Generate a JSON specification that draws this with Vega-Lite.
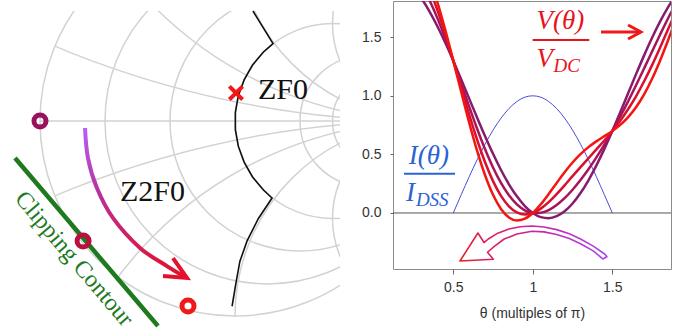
{
  "$schema": "https://vega.github.io/schema/vega-lite/v6.json",
  "padding": 0,
  "spacing": 53,
  "bounds": "flush",
  "background": "white",
  "config": {"view": {"stroke": null}, "font": "Liberation Sans"},
  "datasets": {
    "resistance": [
      {"gx": 0, "gy": 0, "rad": 1},
      {"gx": 0.1667, "gy": 0, "rad": 0.8333},
      {"gx": 0.3333, "gy": 0, "rad": 0.6667},
      {"gx": 0.5, "gy": 0, "rad": 0.5},
      {"gx": 0.6667, "gy": 0, "rad": 0.3333},
      {"gx": 0.75, "gy": 0, "rad": 0.25},
      {"gx": 0.8333, "gy": 0, "rad": 0.1667},
      {"gx": 0.9091, "gy": 0, "rad": 0.0909}
    ],
    "reactance": [
      {"gx": 1, "gy": 5, "rad": 5}, {"gx": 1, "gy": -5, "rad": 5},
      {"gx": 1, "gy": 2, "rad": 2}, {"gx": 1, "gy": -2, "rad": 2},
      {"gx": 1, "gy": 1, "rad": 1}, {"gx": 1, "gy": -1, "rad": 1},
      {"gx": 1, "gy": 0.5, "rad": 0.5}, {"gx": 1, "gy": -0.5, "rad": 0.5},
      {"gx": 1, "gy": 0.3333, "rad": 0.3333}, {"gx": 1, "gy": -0.3333, "rad": 0.3333},
      {"gx": 1, "gy": 0.2, "rad": 0.2}, {"gx": 1, "gy": -0.2, "rad": 0.2},
      {"gx": 1, "gy": 0.1, "rad": 0.1}, {"gx": 1, "gy": -0.1, "rad": 0.1}
    ],
    "zf0": [
      {"o": 0, "gx": 0.092, "gy": 0.564},
      {"o": 1, "gx": 0.195, "gy": 0.397},
      {"o": 2, "gx": 0.179, "gy": 0.383},
      {"o": 3, "gx": 0.146, "gy": 0.354},
      {"o": 4, "gx": 0.090, "gy": 0.287},
      {"o": 5, "gx": 0.047, "gy": 0.211},
      {"o": 6, "gx": 0.017, "gy": 0.129},
      {"o": 7, "gx": 0.002, "gy": 0.044},
      {"o": 8, "gx": 0.002, "gy": -0.044},
      {"o": 9, "gx": 0.017, "gy": -0.129},
      {"o": 10, "gx": 0.047, "gy": -0.211},
      {"o": 11, "gx": 0.090, "gy": -0.287},
      {"o": 12, "gx": 0.146, "gy": -0.354},
      {"o": 13, "gx": 0.19, "gy": -0.395},
      {"o": 14, "gx": 0.12, "gy": -0.50},
      {"o": 15, "gx": 0.062, "gy": -0.615},
      {"o": 16, "gx": 0.025, "gy": -0.72},
      {"o": 17, "gx": 0.005, "gy": -0.83},
      {"o": 18, "gx": -0.015, "gy": -0.95}
    ],
    "z2f0Path": [
      {"o": 0, "gx": -0.769, "gy": -0.036},
      {"o": 1, "gx": -0.754, "gy": -0.190},
      {"o": 2, "gx": -0.708, "gy": -0.344},
      {"o": 3, "gx": -0.626, "gy": -0.497},
      {"o": 4, "gx": -0.487, "gy": -0.651},
      {"o": 5, "gx": -0.349, "gy": -0.744},
      {"o": 6, "gx": -0.256, "gy": -0.800}
    ],
    "z2f0Head": [
      {"o": 0, "gx": -0.318, "gy": -0.703},
      {"o": 1, "gx": -0.246, "gy": -0.805},
      {"o": 2, "gx": -0.369, "gy": -0.795}
    ],
    "states": [
      {"gx": -1.0, "gy": 0, "pt": "start"},
      {"gx": -0.779, "gy": -0.615, "pt": "mid"},
      {"gx": -0.241, "gy": -0.949, "pt": "end"}
    ],
    "voltage": [
      {"t": 0.25, "v1": 1.919, "v2": 2.036, "v3": 2.152, "v4": 2.269},
      {"t": 0.30, "v1": 1.831, "v2": 1.942, "v3": 2.052, "v4": 2.163},
      {"t": 0.35, "v1": 1.721, "v2": 1.816, "v3": 1.910, "v4": 2.005},
      {"t": 0.40, "v1": 1.594, "v2": 1.663, "v3": 1.731, "v4": 1.800},
      {"t": 0.45, "v1": 1.453, "v2": 1.489, "v3": 1.525, "v4": 1.561},
      {"t": 0.50, "v1": 1.300, "v2": 1.300, "v3": 1.300, "v4": 1.300},
      {"t": 0.55, "v1": 1.140, "v2": 1.104, "v3": 1.068, "v4": 1.032},
      {"t": 0.60, "v1": 0.976, "v2": 0.908, "v3": 0.839, "v4": 0.771},
      {"t": 0.65, "v1": 0.813, "v2": 0.719, "v3": 0.625, "v4": 0.530},
      {"t": 0.70, "v1": 0.655, "v2": 0.544, "v3": 0.433, "v4": 0.322},
      {"t": 0.75, "v1": 0.505, "v2": 0.388, "v3": 0.272, "v4": 0.155},
      {"t": 0.80, "v1": 0.367, "v2": 0.256, "v3": 0.146, "v4": 0.034},
      {"t": 0.85, "v1": 0.245, "v2": 0.151, "v3": 0.057, "v4": -0.038},
      {"t": 0.90, "v1": 0.142, "v2": 0.073, "v3": 0.005, "v4": -0.064},
      {"t": 0.95, "v1": 0.059, "v2": 0.023, "v3": -0.013, "v4": -0.049},
      {"t": 1.00, "v1": 0.000, "v2": 0.000, "v3": 0.000, "v4": 0.000},
      {"t": 1.05, "v1": -0.035, "v2": 0.002, "v3": 0.037, "v4": 0.074},
      {"t": 1.10, "v1": -0.044, "v2": 0.025, "v3": 0.093, "v4": 0.162},
      {"t": 1.15, "v1": -0.027, "v2": 0.068, "v3": 0.161, "v4": 0.256},
      {"t": 1.20, "v1": 0.015, "v2": 0.126, "v3": 0.236, "v4": 0.348},
      {"t": 1.25, "v1": 0.081, "v2": 0.198, "v3": 0.314, "v4": 0.431},
      {"t": 1.30, "v1": 0.170, "v2": 0.281, "v3": 0.391, "v4": 0.502},
      {"t": 1.35, "v1": 0.279, "v2": 0.373, "v3": 0.467, "v4": 0.562},
      {"t": 1.40, "v1": 0.406, "v2": 0.475, "v3": 0.543, "v4": 0.611},
      {"t": 1.45, "v1": 0.547, "v2": 0.584, "v3": 0.619, "v4": 0.656},
      {"t": 1.50, "v1": 0.700, "v2": 0.700, "v3": 0.700, "v4": 0.700},
      {"t": 1.55, "v1": 0.860, "v2": 0.824, "v3": 0.788, "v4": 0.752},
      {"t": 1.60, "v1": 1.024, "v2": 0.955, "v3": 0.887, "v4": 0.818},
      {"t": 1.65, "v1": 1.187, "v2": 1.092, "v3": 0.998, "v4": 0.904},
      {"t": 1.70, "v1": 1.345, "v2": 1.234, "v3": 1.124, "v4": 1.012},
      {"t": 1.75, "v1": 1.495, "v2": 1.378, "v3": 1.262, "v4": 1.145},
      {"t": 1.80, "v1": 1.633, "v2": 1.521, "v3": 1.411, "v4": 1.300},
      {"t": 1.85, "v1": 1.755, "v2": 1.660, "v3": 1.566, "v4": 1.472},
      {"t": 1.90, "v1": 1.858, "v2": 1.790, "v3": 1.721, "v4": 1.653}
    ],
    "current": [
      {"t": 0.50, "v": 0.000}, {"t": 0.55, "v": 0.156}, {"t": 0.60, "v": 0.309},
      {"t": 0.65, "v": 0.454}, {"t": 0.70, "v": 0.588}, {"t": 0.75, "v": 0.707},
      {"t": 0.80, "v": 0.809}, {"t": 0.85, "v": 0.891}, {"t": 0.90, "v": 0.951},
      {"t": 0.95, "v": 0.988}, {"t": 1.00, "v": 1.000}, {"t": 1.05, "v": 0.988},
      {"t": 1.10, "v": 0.951}, {"t": 1.15, "v": 0.891}, {"t": 1.20, "v": 0.809},
      {"t": 1.25, "v": 0.707}, {"t": 1.30, "v": 0.588}, {"t": 1.35, "v": 0.454},
      {"t": 1.40, "v": 0.309}, {"t": 1.45, "v": 0.156}, {"t": 1.50, "v": 0.000}
    ],
    "sweepArrow": [
      {"o": 0, "t": 1.454, "v": -0.352}, {"o": 1, "t": 1.38, "v": -0.283},
      {"o": 2, "t": 1.30, "v": -0.222}, {"o": 3, "t": 1.23, "v": -0.178},
      {"o": 4, "t": 1.15, "v": -0.142}, {"o": 5, "t": 1.07, "v": -0.119},
      {"o": 6, "t": 0.995, "v": -0.111}, {"o": 7, "t": 0.92, "v": -0.118},
      {"o": 8, "t": 0.85, "v": -0.137}, {"o": 9, "t": 0.78, "v": -0.172},
      {"o": 10, "t": 0.72, "v": -0.222}, {"o": 11, "t": 0.693, "v": -0.252},
      {"o": 12, "t": 0.655, "v": -0.171}, {"o": 13, "t": 0.542, "v": -0.410},
      {"o": 14, "t": 0.752, "v": -0.395}, {"o": 15, "t": 0.715, "v": -0.335},
      {"o": 16, "t": 0.76, "v": -0.282}, {"o": 17, "t": 0.82, "v": -0.222},
      {"o": 18, "t": 0.90, "v": -0.180}, {"o": 19, "t": 0.995, "v": -0.156},
      {"o": 20, "t": 1.07, "v": -0.161}, {"o": 21, "t": 1.15, "v": -0.183},
      {"o": 22, "t": 1.23, "v": -0.218}, {"o": 23, "t": 1.30, "v": -0.262},
      {"o": 24, "t": 1.38, "v": -0.323}, {"o": 25, "t": 1.440, "v": -0.392},
      {"o": 26, "t": 1.466, "v": -0.374}, {"o": 27, "t": 1.454, "v": -0.352}
    ]
  },
  "hconcat": [
    {
      "width": 340,
      "height": 333,
      "layer": [
        {
          "data": {"name": "reactance"},
          "mark": {"type": "point", "filled": false, "color": "#d2d2d2", "strokeWidth": 1.5, "opacity": 1, "clip": true},
          "encoding": {
            "x": {"field": "gx", "type": "quantitative", "scale": {"domain": [-1.2051, 0.5385], "nice": false, "zero": false}, "axis": null},
            "y": {"field": "gy", "type": "quantitative", "scale": {"domain": [-1.0923, 0.6154], "nice": false, "zero": false}, "axis": null},
            "size": {"field": "rad", "type": "quantitative", "scale": {"type": "pow", "exponent": 2, "domain": [0, 1], "range": [0, 152100], "nice": false}, "legend": null}
          }
        },
        {
          "data": {"values": [{"gx": 0, "gy": 0, "rad": 1.7699}]},
          "mark": {"type": "point", "filled": false, "color": "white", "strokeWidth": 300, "opacity": 1, "clip": true},
          "encoding": {
            "x": {"field": "gx", "type": "quantitative", "scale": {"domain": [-1.2051, 0.5385], "nice": false, "zero": false}, "axis": null},
            "y": {"field": "gy", "type": "quantitative", "scale": {"domain": [-1.0923, 0.6154], "nice": false, "zero": false}, "axis": null},
            "size": {"field": "rad", "type": "quantitative", "scale": {"type": "pow", "exponent": 2, "domain": [0, 1], "range": [0, 152100], "nice": false}, "legend": null}
          }
        },
        {
          "data": {"name": "resistance"},
          "mark": {"type": "point", "filled": false, "color": "#d2d2d2", "strokeWidth": 1.5, "opacity": 1, "clip": true},
          "encoding": {
            "x": {"field": "gx", "type": "quantitative", "scale": {"domain": [-1.2051, 0.5385], "nice": false, "zero": false}, "axis": null},
            "y": {"field": "gy", "type": "quantitative", "scale": {"domain": [-1.0923, 0.6154], "nice": false, "zero": false}, "axis": null},
            "size": {"field": "rad", "type": "quantitative", "scale": {"type": "pow", "exponent": 2, "domain": [0, 1], "range": [0, 152100], "nice": false}, "legend": null}
          }
        },
        {
          "data": {"values": [{"gx": -1, "gy": 0}, {"gx": 1, "gy": 0}]},
          "mark": {"type": "line", "color": "#d2d2d2", "strokeWidth": 1.5, "clip": true},
          "encoding": {
            "x": {"field": "gx", "type": "quantitative", "scale": {"domain": [-1.2051, 0.5385], "nice": false, "zero": false}, "axis": null},
            "y": {"field": "gy", "type": "quantitative", "scale": {"domain": [-1.0923, 0.6154], "nice": false, "zero": false}, "axis": null}
          }
        },
        {
          "data": {"values": [{"gx": -1.3, "gx2": 0.6, "gy": 0.5641, "gy2": 0.7}]},
          "mark": {"type": "rect", "color": "white", "clip": true},
          "encoding": {
            "x": {"field": "gx", "type": "quantitative", "scale": {"domain": [-1.2051, 0.5385], "nice": false, "zero": false}, "axis": null},
            "x2": {"field": "gx2"},
            "y": {"field": "gy", "type": "quantitative", "scale": {"domain": [-1.0923, 0.6154], "nice": false, "zero": false}, "axis": null},
            "y2": {"field": "gy2"}
          }
        },
        {
          "data": {"values": [{"gx": -1.128, "gy": -0.190}, {"gx": -0.395, "gy": -1.051}]},
          "mark": {"type": "line", "color": "#1e7a1e", "strokeWidth": 4.5, "clip": true},
          "encoding": {
            "x": {"field": "gx", "type": "quantitative", "scale": {"domain": [-1.2051, 0.5385], "nice": false, "zero": false}, "axis": null},
            "y": {"field": "gy", "type": "quantitative", "scale": {"domain": [-1.0923, 0.6154], "nice": false, "zero": false}, "axis": null}
          }
        },
        {
          "data": {"values": [{"gx": -0.826, "gy": -0.708, "label": "Clipping Contour"}]},
          "mark": {"type": "text", "font": "Liberation Serif", "fontSize": 24, "angle": 49.6, "color": "#1e7a1e", "align": "center", "baseline": "middle"},
          "encoding": {
            "x": {"field": "gx", "type": "quantitative", "scale": {"domain": [-1.2051, 0.5385], "nice": false, "zero": false}, "axis": null},
            "y": {"field": "gy", "type": "quantitative", "scale": {"domain": [-1.0923, 0.6154], "nice": false, "zero": false}, "axis": null},
            "text": {"field": "label"}
          }
        },
        {
          "data": {"name": "zf0"},
          "mark": {"type": "line", "color": "#111111", "strokeWidth": 1.6, "clip": true},
          "encoding": {
            "x": {"field": "gx", "type": "quantitative", "scale": {"domain": [-1.2051, 0.5385], "nice": false, "zero": false}, "axis": null},
            "y": {"field": "gy", "type": "quantitative", "scale": {"domain": [-1.0923, 0.6154], "nice": false, "zero": false}, "axis": null},
            "order": {"field": "o"}
          }
        },
        {
          "data": {"name": "z2f0Path"},
          "mark": {
            "type": "line", "strokeWidth": 4, "interpolate": "cardinal", "clip": true,
            "stroke": {"gradient": "linear", "x1": 0, "y1": 0, "x2": 0, "y2": 1,
              "stops": [{"offset": 0, "color": "#b660f5"}, {"offset": 0.45, "color": "#b8309a"}, {"offset": 1, "color": "#e5102c"}]}
          },
          "encoding": {
            "x": {"field": "gx", "type": "quantitative", "scale": {"domain": [-1.2051, 0.5385], "nice": false, "zero": false}, "axis": null},
            "y": {"field": "gy", "type": "quantitative", "scale": {"domain": [-1.0923, 0.6154], "nice": false, "zero": false}, "axis": null},
            "order": {"field": "o"}
          }
        },
        {
          "data": {"name": "z2f0Head"},
          "mark": {"type": "line", "color": "#e5102c", "strokeWidth": 4, "clip": true},
          "encoding": {
            "x": {"field": "gx", "type": "quantitative", "scale": {"domain": [-1.2051, 0.5385], "nice": false, "zero": false}, "axis": null},
            "y": {"field": "gy", "type": "quantitative", "scale": {"domain": [-1.0923, 0.6154], "nice": false, "zero": false}, "axis": null},
            "order": {"field": "o"}
          }
        },
        {
          "data": {"name": "states"},
          "mark": {"type": "point", "filled": false, "size": 144, "strokeWidth": 5, "opacity": 1, "clip": true},
          "encoding": {
            "x": {"field": "gx", "type": "quantitative", "scale": {"domain": [-1.2051, 0.5385], "nice": false, "zero": false}, "axis": null},
            "y": {"field": "gy", "type": "quantitative", "scale": {"domain": [-1.0923, 0.6154], "nice": false, "zero": false}, "axis": null},
            "color": {"field": "pt", "type": "nominal", "scale": {"domain": ["start", "mid", "end"], "range": ["#9a0f5e", "#b8103f", "#f01818"]}, "legend": null}
          }
        },
        {
          "data": {"values": [{"gx": 0.005, "gy": 0.144}]},
          "mark": {"type": "point", "filled": true, "color": "#f01818", "opacity": 1, "size": 256,
            "shape": "M -1 -0.65 L -0.65 -1 L 0 -0.35 L 0.65 -1 L 1 -0.65 L 0.35 0 L 1 0.65 L 0.65 1 L 0 0.35 L -0.65 1 L -1 0.65 L -0.35 0 Z"},
          "encoding": {
            "x": {"field": "gx", "type": "quantitative", "scale": {"domain": [-1.2051, 0.5385], "nice": false, "zero": false}, "axis": null},
            "y": {"field": "gy", "type": "quantitative", "scale": {"domain": [-1.0923, 0.6154], "nice": false, "zero": false}, "axis": null}
          }
        },
        {
          "data": {"values": [{"gx": 0.118, "gy": 0.113, "label": "ZF0"}, {"gx": -0.590, "gy": -0.410, "label": "Z2F0"}]},
          "mark": {"type": "text", "font": "Liberation Serif", "fontSize": 30, "color": "#111111", "align": "left", "baseline": "alphabetic"},
          "encoding": {
            "x": {"field": "gx", "type": "quantitative", "scale": {"domain": [-1.2051, 0.5385], "nice": false, "zero": false}, "axis": null},
            "y": {"field": "gy", "type": "quantitative", "scale": {"domain": [-1.0923, 0.6154], "nice": false, "zero": false}, "axis": null},
            "text": {"field": "label"}
          }
        }
      ]
    },
    {
      "width": 278,
      "height": 268,
      "view": {"stroke": "#8c8c8c", "strokeWidth": 1},
      "resolve": {"scale": {"color": "independent"}},
      "encoding": {
        "x": {
          "field": "t", "type": "quantitative",
          "scale": {"domain": [0.121, 1.869], "nice": false, "zero": false},
          "axis": {"values": [0.5, 1, 1.5], "format": "~g", "title": "θ (multiples of π)", "grid": false, "domain": false,
            "tickSize": 5, "tickColor": "#666666", "labelFontSize": 14, "labelColor": "#333333", "labelPadding": 6,
            "titleFontSize": 14, "titleFontWeight": "normal", "titleColor": "#333333", "titlePadding": 12}
        },
        "y": {
          "field": "v", "type": "quantitative",
          "scale": {"domain": [-0.478, 1.809], "nice": false, "zero": false},
          "axis": {"values": [0, 0.5, 1, 1.5], "format": ".1f", "title": null, "grid": false, "domain": false,
            "tickSize": 3, "tickColor": "#666666", "labelFontSize": 14, "labelColor": "#333333", "labelPadding": 9}
        }
      },
      "layer": [
        {
          "data": {"values": [{"t": 0.121, "t2": 1.869, "v": 0}]},
          "mark": {"type": "rule", "color": "#555555", "strokeWidth": 1},
          "encoding": {"x2": {"field": "t2"}}
        },
        {
          "data": {"name": "current"},
          "mark": {"type": "line", "color": "#4b4bdc", "strokeWidth": 1, "interpolate": "monotone", "clip": true},
          "encoding": {}
        },
        {
          "data": {"name": "voltage"},
          "transform": [{"fold": ["v1", "v2", "v3", "v4"], "as": ["curve", "v"]}],
          "mark": {"type": "line", "strokeWidth": 2.5, "interpolate": "monotone", "clip": true},
          "encoding": {
            "color": {"field": "curve", "type": "nominal",
              "scale": {"domain": ["v1", "v2", "v3", "v4"], "range": ["#861c6e", "#a8145a", "#d81030", "#f5140f"]},
              "legend": null}
          }
        },
        {
          "data": {"name": "sweepArrow"},
          "mark": {
            "type": "line", "strokeWidth": 1.6, "strokeJoin": "round", "clip": true,
            "stroke": {"gradient": "linear", "x1": 0, "y1": 0, "x2": 1, "y2": 0,
              "stops": [{"offset": 0, "color": "#e82028"}, {"offset": 0.45, "color": "#d0209a"}, {"offset": 1, "color": "#a848e8"}]}
          },
          "encoding": {"order": {"field": "o"}}
        },
        {
          "data": {"values": [
            {"t": 1.429, "v": 1.544, "seg": "shaft", "o": 0},
            {"t": 1.673, "v": 1.544, "seg": "shaft", "o": 1},
            {"t": 1.599, "v": 1.604, "seg": "head", "o": 0},
            {"t": 1.680, "v": 1.544, "seg": "head", "o": 1},
            {"t": 1.599, "v": 1.485, "seg": "head", "o": 2}
          ]},
          "mark": {"type": "line", "color": "#ec1a1a", "strokeWidth": 3, "clip": true},
          "encoding": {"detail": {"field": "seg"}, "order": {"field": "o"}}
        },
        {
          "data": {"values": [
            {"t": 0.999, "t2": 1.355, "v": 1.476, "grp": "V"},
            {"t": 0.190, "t2": 0.511, "v": 0.335, "grp": "I"}
          ]},
          "mark": {"type": "rule", "strokeWidth": 2},
          "encoding": {
            "x2": {"field": "t2"},
            "color": {"field": "grp", "type": "nominal", "scale": {"domain": ["V", "I"], "range": ["#e8141c", "#2b62d4"]}, "legend": null}
          }
        },
        {
          "data": {"values": [
            {"t": 1.174, "v": 1.638, "label": "V(θ)", "grp": "V"},
            {"t": 0.347, "v": 0.486, "label": "I(θ)", "grp": "I"}
          ]},
          "mark": {"type": "text", "font": "Liberation Serif", "fontStyle": "italic", "fontSize": 27, "align": "center", "baseline": "middle"},
          "encoding": {
            "text": {"field": "label"},
            "color": {"field": "grp", "type": "nominal", "scale": {"domain": ["V", "I"], "range": ["#e8141c", "#2b62d4"]}, "legend": null}
          }
        },
        {
          "data": {"values": [
            {"t": 1.127, "v": 1.246, "label": "V", "grp": "V"},
            {"t": 0.259, "v": 0.102, "label": "I", "grp": "I"}
          ]},
          "mark": {"type": "text", "font": "Liberation Serif", "fontStyle": "italic", "fontSize": 27, "align": "right", "baseline": "alphabetic"},
          "encoding": {
            "text": {"field": "label"},
            "color": {"field": "grp", "type": "nominal", "scale": {"domain": ["V", "I"], "range": ["#e8141c", "#2b62d4"]}, "legend": null}
          }
        },
        {
          "data": {"values": [
            {"t": 1.130, "v": 1.203, "label": "DC", "grp": "V"},
            {"t": 0.265, "v": 0.060, "label": "DSS", "grp": "I"}
          ]},
          "mark": {"type": "text", "font": "Liberation Serif", "fontStyle": "italic", "fontSize": 19, "align": "left", "baseline": "alphabetic"},
          "encoding": {
            "text": {"field": "label"},
            "color": {"field": "grp", "type": "nominal", "scale": {"domain": ["V", "I"], "range": ["#e8141c", "#2b62d4"]}, "legend": null}
          }
        }
      ]
    }
  ]
}
